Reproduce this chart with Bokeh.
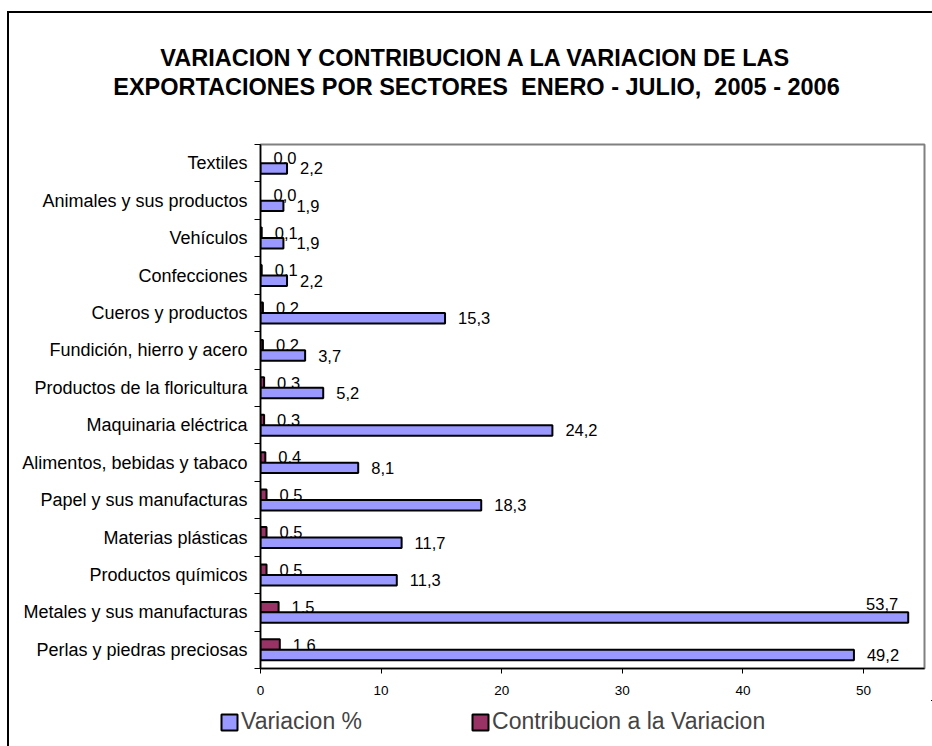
from bokeh.plotting import figure
from bokeh.layouts import column
from bokeh.models import ColumnDataSource, FixedTicker, Legend, LegendItem, Label
from bokeh.core.properties import value
from bokeh.embed import file_html
from bokeh.resources import INLINE

# ---------------- data (top to bottom as displayed) ----------------
sectores = [
    "Textiles",
    "Animales y sus productos",
    "Vehículos",
    "Confecciones",
    "Cueros y productos",
    "Fundición, hierro y acero",
    "Productos de la floricultura",
    "Maquinaria eléctrica",
    "Alimentos, bebidas y tabaco",
    "Papel y sus manufacturas",
    "Materias plásticas",
    "Productos químicos",
    "Metales y sus manufacturas",
    "Perlas y piedras preciosas",
]
variacion = [2.2, 1.9, 1.9, 2.2, 15.3, 3.7, 5.2, 24.2, 8.1, 18.3, 11.7, 11.3, 53.7, 49.2]
contribucion = [0.0, 0.0, 0.1, 0.1, 0.2, 0.2, 0.3, 0.3, 0.4, 0.5, 0.5, 0.5, 1.5, 1.6]
x_ticks = [0, 10, 20, 30, 40, 50]
series_names = ["Variacion %", "Contribucion a la Variacion"]
title_lines = [
    "VARIACION Y CONTRIBUCION A LA VARIACION DE LAS",
    "EXPORTACIONES POR SECTORES  ENERO - JULIO,  2005 - 2006",
]

FONT = "Liberation Sans"
C_VAR = "#9999FF"
C_CON = "#993366"
X_MAX = 55.05
BAR_H = 0.28

n = len(sectores)
yc = [n - 1 - i for i in range(n)]


def fmt(v):
    return f"{v:.1f}".replace(".", ",")


# page geometry: the outer chart border takes 9px on the left, 13px on top
OX, OY = 9, 13
W = 932 - OX
TITLE_H = 138 - OY          # title strip
MAIN_H = 700 - 138          # plot strip
LEG_H = 746 - 700           # legend strip
BL, BR, BT, BB = 260 - OX, 8, 144 - 138, 700 - 668
frame_w = W - BL - BR
px_per_unit = frame_w / X_MAX


def blank(h, xr=None, yr=None):
    f = figure(width=W, height=h, x_range=xr or (0, W), y_range=yr or (0, h),
               x_axis_type=None, y_axis_type=None, output_backend="svg",
               toolbar_location=None, min_border=0, frame_align=False)
    f.outline_line_color = None
    f.xgrid.visible = False
    f.ygrid.visible = False
    f.background_fill_color = "white"
    f.border_fill_color = "white"
    return f


# ---------------- title strip ----------------
t = blank(TITLE_H)
for k, line in enumerate(title_lines):
    # keep the doubled spaces visible in SVG
    shown = line.replace("  ", " \u00a0")
    t.add_layout(Label(x=476 - OX, y=TITLE_H - (57 + 29 * k - OY), text=shown,
                       text_align="center", text_baseline="middle",
                       text_font=FONT, text_font_size="23.5px",
                       text_font_style="bold", text_color="black"))

# ---------------- main plot ----------------
p = figure(width=W, height=MAIN_H, x_range=(0, X_MAX), y_range=(-0.5, n - 0.5),
           output_backend="svg", toolbar_location=None, frame_align=False,
           min_border_left=BL, min_border_right=BR,
           min_border_top=BT, min_border_bottom=BB)
p.xgrid.visible = False
p.ygrid.visible = False
p.outline_line_color = "#808080"
p.outline_line_width = 2
p.background_fill_color = "white"
p.border_fill_color = "white"

# contribution labels (drawn first so bars overlay them slightly)
con_src = ColumnDataSource(dict(
    x=contribucion, y=[v + BAR_H / 2 for v in yc], t=[fmt(v) for v in contribucion]))
p.text(x="x", y="y", text="t", source=con_src, x_offset=13,
       text_baseline="middle", text_align="left",
       text_font=value(FONT), text_font_size="16.5px", text_color="black")

# contribution bars (only non-zero ones are visible)
con_bar = ColumnDataSource(dict(
    y=[y + BAR_H / 2 for y, v in zip(yc, contribucion) if v > 0],
    r=[v for v in contribucion if v > 0]))
p.hbar(y="y", left=0, right="r", height=BAR_H, source=con_bar,
       fill_color=C_CON, line_color="black", line_width=2)

# variation bars
var_src = ColumnDataSource(dict(y=[y - BAR_H / 2 for y in yc], r=variacion))
p.hbar(y="y", left=0, right="r", height=BAR_H, source=var_src,
       fill_color=C_VAR, line_color="black", line_width=2)

# variation labels: right of bar if room, else above bar end
out_x, out_y, out_t, in_x, in_y, in_t = [], [], [], [], [], []
for y, v in zip(yc, variacion):
    if (X_MAX - v) * px_per_unit > 45:
        out_x.append(v); out_y.append(y - BAR_H / 2); out_t.append(fmt(v))
    else:
        in_x.append(v); in_y.append(y); in_t.append(fmt(v))
p.text(x=out_x, y=out_y, text=out_t, x_offset=13, text_baseline="middle",
       text_align="left", text_font=value(FONT), text_font_size="16.5px",
       text_color="black")
p.text(x=in_x, y=in_y, text=in_t, x_offset=-10, y_offset=-2, text_baseline="bottom",
       text_align="right", text_font=value(FONT), text_font_size="16.5px",
       text_color="black")

# axes
p.xaxis.ticker = FixedTicker(ticks=x_ticks)
p.xaxis.axis_line_color = "black"
p.xaxis.axis_line_width = 1.5
p.xaxis.major_tick_out = 5
p.xaxis.major_tick_in = 0
p.xaxis.minor_tick_out = 0
p.xaxis.minor_tick_in = 0
p.xaxis.major_tick_line_color = "black"
p.xaxis.major_label_text_font = FONT
p.xaxis.major_label_text_font_size = "13.5px"
p.xaxis.major_label_text_color = "black"
p.xaxis.major_label_standoff = 12

p.yaxis.ticker = FixedTicker(ticks=yc, minor_ticks=[k - 0.5 for k in range(n + 1)])
p.yaxis.major_label_overrides = {y: s for y, s in zip(yc, sectores)}
p.yaxis.axis_line_color = "black"
p.yaxis.axis_line_width = 1.5
p.yaxis.major_tick_out = 0
p.yaxis.major_tick_in = 0
p.yaxis.minor_tick_out = 6
p.yaxis.minor_tick_in = 0
p.yaxis.minor_tick_line_color = "black"
p.yaxis.major_label_text_font = FONT
p.yaxis.major_label_text_font_size = "18px"
p.yaxis.major_label_text_color = "black"
p.yaxis.major_label_standoff = 7

# ---------------- legend strip ----------------
# the swatches come from renderers of the same series, kept outside the strip's view
lg = blank(LEG_H, xr=(-2, -1), yr=(-2, -1))
d_var = lg.hbar(y="y", left=0, right="r", height=BAR_H,
                source=ColumnDataSource(dict(y=yc, r=variacion)),
                fill_color=C_VAR, line_color="black", line_width=2)
d_con = lg.hbar(y="y", left=0, right="r", height=BAR_H,
                source=ColumnDataSource(dict(y=yc, r=contribucion)),
                fill_color=C_CON, line_color="black", line_width=2)
legend = Legend(items=[LegendItem(label=series_names[0], renderers=[d_var]),
                       LegendItem(label=series_names[1], renderers=[d_con])],
                location=(219 - OX, 746 - 735), orientation="horizontal", spacing=108,
                padding=0, margin=0, border_line_alpha=0,
                background_fill_alpha=0, label_text_font=FONT,
                label_text_font_size="23px", glyph_width=20, glyph_height=20,
                label_standoff=2, label_height=16)
lg.add_layout(legend)

page = column(t, p, lg, spacing=0)
page.styles = {"border-left": "2px solid black", "border-top": "2px solid black",
               "margin-left": "7px", "margin-top": "11px"}

open("out.html", "w").write(file_html(page, INLINE))
